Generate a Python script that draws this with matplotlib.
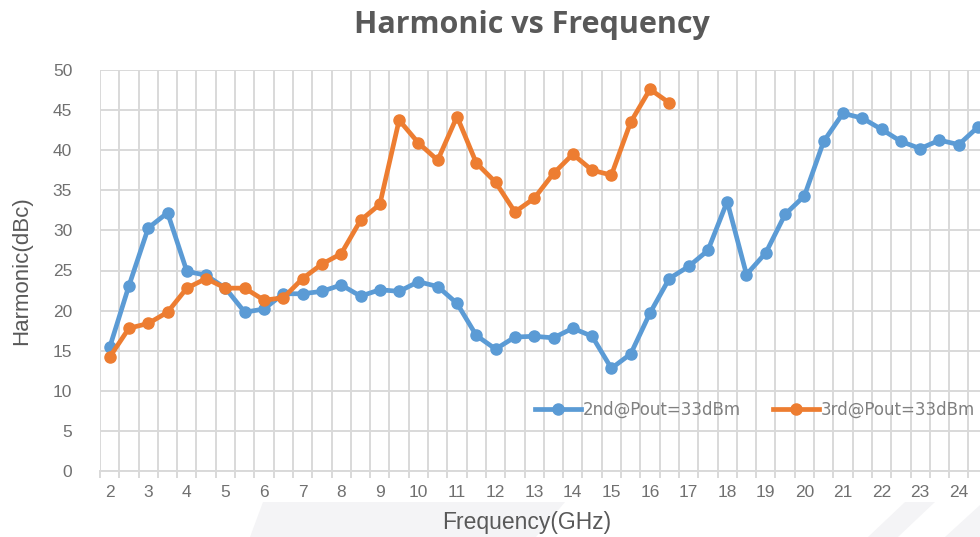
import numpy as np
import matplotlib
matplotlib.use("Agg")
import matplotlib.pyplot as plt
from matplotlib.patches import Polygon

# данные
freq = [2, 2.5, 3, 3.5, 4, 4.5, 5, 5.5, 6, 6.5, 7, 7.5, 8, 8.5, 9, 9.5, 10, 10.5,
        11, 11.5, 12, 12.5, 13, 13.5, 14, 14.5, 15, 15.5, 16, 16.5, 17, 17.5, 18,
        18.5, 19, 19.5, 20, 20.5, 21, 21.5, 22, 22.5, 23, 23.5, 24, 24.5]
h2 = [15.4, 23.1, 30.3, 32.2, 24.9, 24.4, 22.8, 19.8, 20.2, 22.1, 22.1, 22.4, 23.2,
      21.8, 22.6, 22.4, 23.6, 23.0, 20.9, 16.9, 15.2, 16.7, 16.8, 16.6, 17.8, 16.8,
      12.8, 14.6, 19.7, 24.0, 25.5, 27.5, 33.6, 24.5, 27.2, 32.0, 34.3, 41.1, 44.6,
      44.0, 42.6, 41.1, 40.2, 41.25, 40.7, 42.9]
freq3 = freq[:30]
h3 = [14.2, 17.8, 18.4, 19.8, 22.8, 24.0, 22.8, 22.8, 21.3, 21.6, 24.0, 25.8, 27.1,
      31.25, 33.25, 43.75, 40.9, 38.75, 44.2, 38.4, 36.0, 32.3, 34.0, 37.1, 39.5,
      37.5, 36.9, 43.5, 47.6, 45.9]
xticks = list(range(2, 25))

blue = '#5B9BD5'
orange = '#ED7D31'
grid_c = '#D9D9D9'
txt_c = '#595959'

fig = plt.figure(figsize=(9.8, 5.37), dpi=100)

# бледный водяной знак внизу (под всем остальным)
W, H = 980, 537
for pts in ([(250, 537), (263, 502), (565, 502), (536, 537)],
            [(868, 537), (905, 502), (935, 502), (898, 537)],
            [(945, 537), (980, 505), (980, 537)]):
    fig.patches.append(Polygon([(x / W, 1 - y / H) for x, y in pts], closed=True,
                               transform=fig.transFigure, color='#F4F4F6', lw=0, zorder=-5))

ax = fig.add_axes([100 / 980, 1 - 471 / 537, 1 - 100 / 980, 401 / 537])
ax.set_zorder(1)
ax.patch.set_alpha(0)

ax.plot(freq, h2, color=blue, lw=3.4, marker='o', ms=8, label='2nd@Pout=33dBm', zorder=3)
ax.plot(freq3, h3, color=orange, lw=3.4, marker='o', ms=8, label='3rd@Pout=33dBm', zorder=3)

ax.set_xlim(1.75, 24.55)
ax.set_ylim(0, 50)
ax.set_yticks(range(0, 51, 5))
ax.set_xticks(xticks)
ax.set_xticks(np.arange(1.75, 24.6, 0.5), minor=True)
ax.grid(True, axis='x', which='minor', color=grid_c, lw=1.4)
ax.grid(True, axis='y', which='major', color=grid_c, lw=1.4)
ax.set_axisbelow(True)

for s in ['top', 'right', 'left']:
    ax.spines[s].set_visible(False)
ax.spines['bottom'].set_color(grid_c)
ax.spines['bottom'].set_linewidth(1.4)

ax.tick_params(axis='x', which='major', length=0, pad=10, labelsize=12.5, labelcolor='#707070')
ax.tick_params(axis='x', which='minor', length=5, width=1.4, color=grid_c)
ax.tick_params(axis='y', length=0, pad=20, labelsize=12.5, labelcolor='#707070')
for lab in ax.get_xticklabels() + ax.get_yticklabels():
    lab.set_family('Liberation Sans')

ax.set_xlabel('Frequency(GHz)', family='Liberation Sans', fontsize=16.5, color=txt_c)
ax.xaxis.set_label_coords((527 - 100) / 880, -0.1)
ax.set_ylabel('Harmonic(dBc)', family='Liberation Sans', fontsize=16, color=txt_c)
ax.yaxis.set_label_coords(-0.077, 0.5)

fig.text(532 / 980, 1 - 25 / 537, 'Harmonic vs Frequency', ha='center', va='center',
         family='Open Sans', weight='bold', fontsize=22, color=txt_c)

leg = ax.legend(loc='center', bbox_to_anchor=(755 / 980, 1 - 410 / 537),
                bbox_transform=fig.transFigure, ncol=2, frameon=False,
                fontsize=12, handlelength=2.8, columnspacing=1.9, handletextpad=0.1,
                labelcolor='#808080')
for t in leg.get_texts():
    t.set_family('DejaVu Sans')

fig.savefig('out.png', dpi=100)
